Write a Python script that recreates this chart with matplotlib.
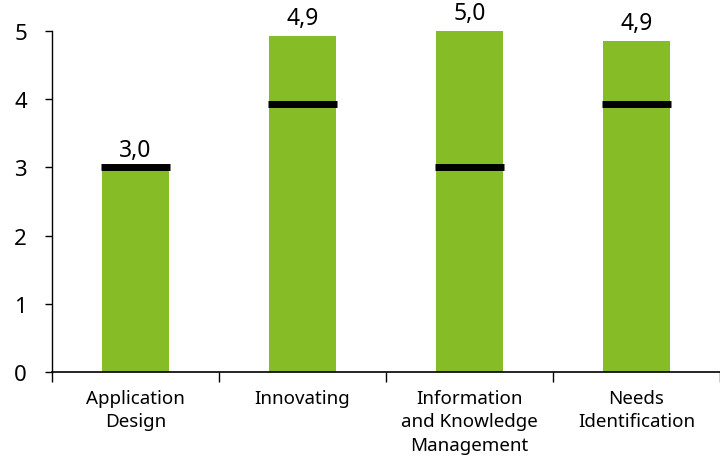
import numpy as np
import matplotlib.pyplot as plt

plt.rcParams['font.family'] = ['Noto Sans', 'DejaVu Sans']

categories = ["Application\nDesign", "Innovating", "Information\nand Knowledge\nManagement", "Needs\nIdentification"]
values = [3.0, 4.93, 5.0, 4.86]
targets = [3.0, 3.93, 3.0, 3.93]

green = "#86BC25"

fig = plt.figure(figsize=(7.2, 4.64), dpi=100)
ax = fig.add_axes([0.0722, 0.196, 0.9278, 0.735])

x = np.arange(len(categories))
ax.bar(x, values, width=0.4, color=green, zorder=2)
ax.hlines(targets, x - 0.205, x + 0.205, color="black", linewidth=5, zorder=3)

for xi, v in zip(x, values):
    ax.annotate(f"{v:.1f}".replace(".", ","), (xi, v), xytext=(0, 4),
                textcoords="offset points", ha="center", va="bottom", fontsize=16.5)

ax.set_xlim(-0.5, 3.5)
ax.set_ylim(0, 5)
ax.set_yticks(range(6))
ax.tick_params(axis="y", labelsize=16, length=5, width=1, pad=13)

ax.set_xticks(x)
ax.set_xticklabels(categories, fontsize=13.5, linespacing=1.4)
ax.set_xticks(np.arange(-0.5, 3.6, 1), minor=True)
ax.tick_params(axis="x", which="major", length=0, pad=12)
ax.tick_params(axis="x", which="minor", length=7, width=1)

for s in ["top", "right"]:
    ax.spines[s].set_visible(False)
ax.spines["left"].set_linewidth(1)
ax.spines["bottom"].set_linewidth(1.2)

fig.savefig("out.png", dpi=100)
